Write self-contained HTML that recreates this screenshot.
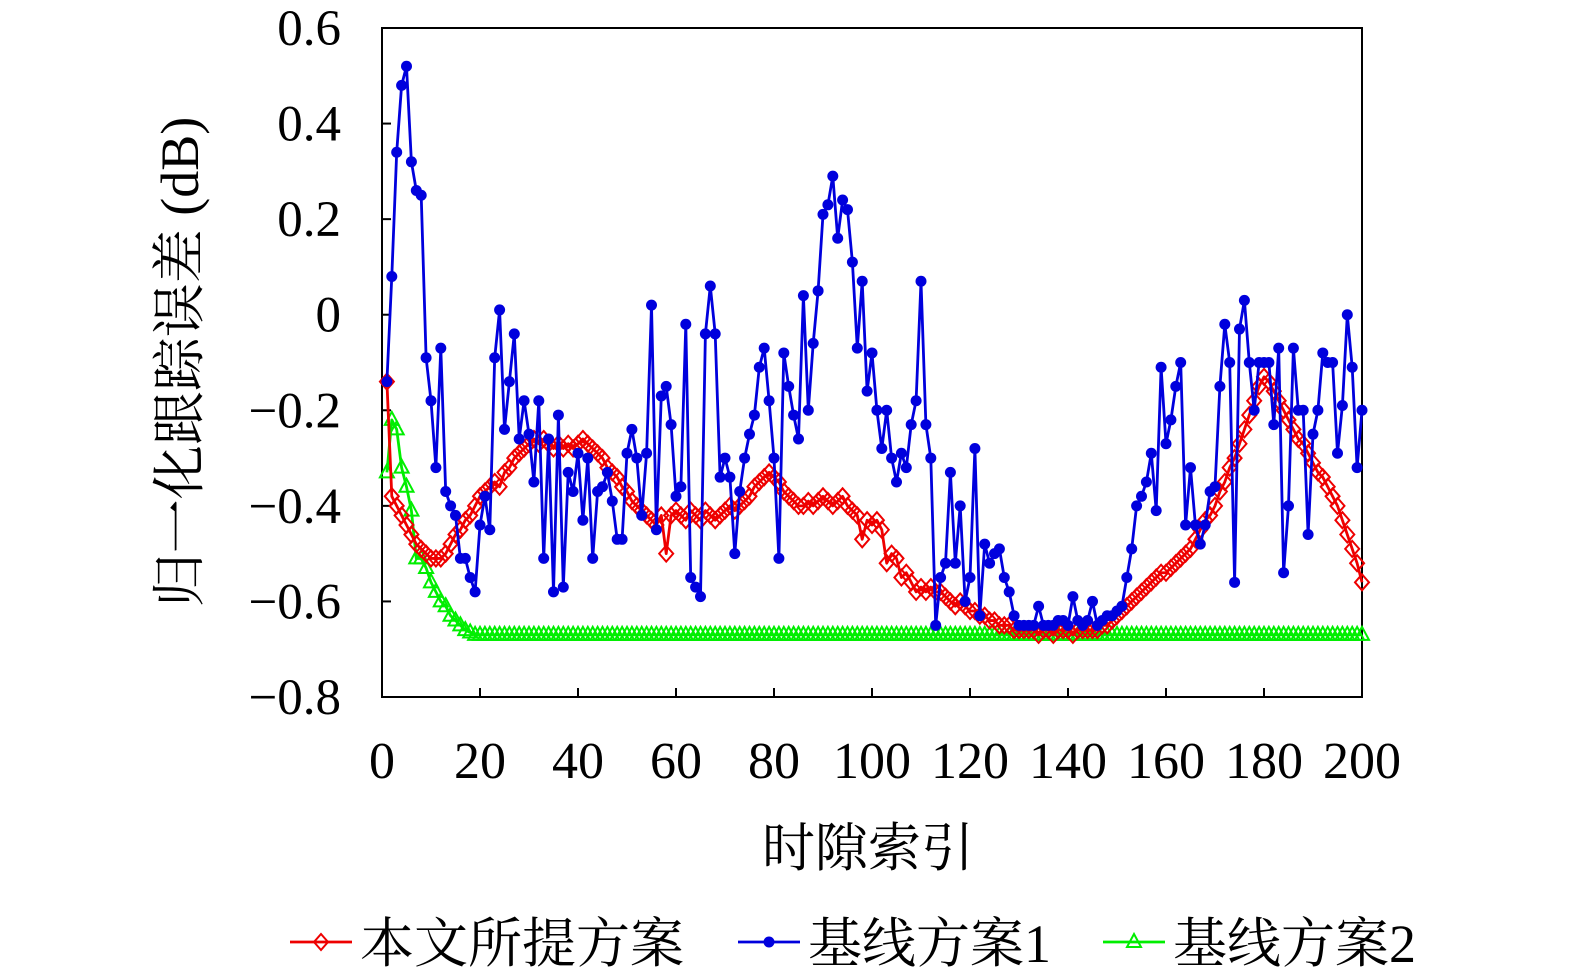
<!DOCTYPE html>
<html><head><meta charset="utf-8"><style>
html,body{margin:0;padding:0;background:#fff;overflow:hidden;}
svg{display:block;}
text{font-family:"Liberation Serif","Noto Serif CJK SC",serif;fill:#000;}
</style></head><body>
<svg id="chart" width="1575" height="973" xmlns="http://www.w3.org/2000/svg"></svg>
<script>
const xTicks=[0,20,40,60,80,100,120,140,160,180,200];
const yTicks=[-0.8,-0.6,-0.4,-0.2,0,0.2,0.4,0.6];
const yTickLabels=["−0.8","−0.6","−0.4","−0.2","0","0.2","0.4","0.6"];
const proposedValues=[-0.14,
-0.38,-0.40,-0.42,-0.44,-0.46,-0.48,-0.49,-0.50,-0.51,-0.51,-0.51,
-0.50,-0.48,-0.46,-0.45,-0.43,-0.42,-0.40,-0.38,-0.37,-0.36,-0.35,-0.36,-0.33,
-0.32,-0.30,-0.29,-0.28,-0.27,-0.26,-0.27,-0.26,-0.27,-0.28,-0.27,-0.28,-0.27,-0.28,-0.27,
-0.26,-0.27,-0.28,-0.29,-0.30,-0.32,-0.33,-0.34,-0.36,-0.37,-0.39,-0.40,-0.41,-0.42,-0.43,
-0.44,-0.42,-0.50,-0.42,-0.41,-0.42,-0.43,-0.41,-0.42,-0.43,-0.41,-0.42,-0.43,-0.42,-0.41,
-0.40,-0.41,-0.40,-0.39,-0.38,-0.36,-0.35,-0.34,-0.33,-0.34,-0.35,-0.37,-0.38,-0.39,-0.40,
-0.40,-0.39,-0.40,-0.39,-0.38,-0.39,-0.40,-0.39,-0.38,-0.40,-0.41,-0.42,-0.47,-0.43,-0.44,
-0.43,-0.45,-0.52,-0.50,-0.51,-0.55,-0.54,-0.56,-0.58,-0.57,-0.58,-0.57,-0.58,-0.58,-0.59,
-0.60,-0.61,-0.60,-0.61,-0.62,-0.62,-0.63,-0.63,-0.64,-0.64,-0.65,-0.65,-0.65,-0.66,-0.66,
-0.66,-0.66,-0.66,-0.67,-0.66,-0.66,-0.67,-0.66,-0.66,-0.66,-0.67,-0.66,-0.66,-0.66,-0.66,-0.66,-0.65,-0.65,-0.64,-0.63,
-0.62,-0.61,-0.60,-0.59,-0.58,-0.57,-0.56,-0.55,-0.54,-0.54,-0.53,-0.52,-0.51,-0.50,-0.49,
-0.47,-0.45,-0.43,-0.42,-0.40,-0.37,-0.35,-0.32,-0.30,-0.27,-0.24,-0.21,-0.18,-0.15,-0.13,
-0.14,-0.16,-0.18,-0.20,-0.22,-0.24,-0.26,-0.27,-0.29,-0.31,-0.33,-0.34,-0.36,-0.38,-0.40,-0.43,-0.46,-0.49,-0.52,-0.56];
const baseline1Values=[
-0.14,0.08,0.34,0.48,0.52,0.32,0.26,0.25,-0.09,-0.18,
-0.32,-0.07,-0.37,-0.40,-0.42,-0.51,-0.51,-0.55,-0.58,-0.44,
-0.38,-0.45,-0.09,0.01,-0.24,-0.14,-0.04,-0.26,-0.18,-0.25,
-0.35,-0.18,-0.51,-0.26,-0.58,-0.21,-0.57,-0.33,-0.37,-0.29,
-0.43,-0.30,-0.51,-0.37,-0.36,-0.33,-0.39,-0.47,-0.47,-0.29,
-0.24,-0.30,-0.42,-0.29,0.02,-0.45,-0.17,-0.15,-0.23,-0.38,
-0.36,-0.02,-0.55,-0.57,-0.59,-0.04,0.06,-0.04,-0.34,-0.30,
-0.34,-0.50,-0.37,-0.30,-0.25,-0.21,-0.11,-0.07,-0.18,-0.30,
-0.51,-0.08,-0.15,-0.21,-0.26,0.04,-0.20,-0.06,0.05,0.21,
0.23,0.29,0.16,0.24,0.22,0.11,-0.07,0.07,-0.16,-0.08,
-0.20,-0.28,-0.20,-0.30,-0.35,-0.29,-0.32,-0.23,-0.18,0.07,
-0.23,-0.30,-0.65,-0.55,-0.52,-0.33,-0.52,-0.40,-0.60,-0.55,
-0.28,-0.63,-0.48,-0.52,-0.50,-0.49,-0.55,-0.58,-0.63,-0.65,
-0.65,-0.65,-0.65,-0.61,-0.65,-0.65,-0.65,-0.64,-0.64,-0.65,-0.59,-0.64,-0.65,-0.64,-0.60,-0.65,-0.64,-0.63,-0.63,-0.62,-0.61,-0.55,
-0.49,-0.40,-0.38,-0.35,-0.29,-0.41,-0.11,-0.27,-0.22,-0.15,-0.10,-0.44,-0.32,-0.44,-0.48,-0.44,-0.37,-0.36,-0.15,-0.02,
-0.10,-0.56,-0.03,0.03,-0.10,-0.20,-0.10,-0.10,-0.10,-0.23,-0.07,-0.54,-0.40,-0.07,-0.20,-0.20,-0.46,-0.25,-0.20,-0.08,
-0.10,-0.10,-0.29,-0.19,0.00,-0.11,-0.32,-0.20];
const baseline2Values=[-0.33,-0.22,-0.24,-0.32,-0.36,-0.41,-0.51,-0.51,-0.53,-0.56,-0.58,-0.60,-0.61,-0.63,-0.64,-0.65,-0.66,-0.665,-0.67,-0.67,
-0.67,-0.67,-0.67,-0.67,-0.67,-0.67,-0.67,-0.67,-0.67,-0.67,-0.67,-0.67,-0.67,-0.67,-0.67,-0.67,-0.67,-0.67,-0.67,-0.67,
-0.67,-0.67,-0.67,-0.67,-0.67,-0.67,-0.67,-0.67,-0.67,-0.67,-0.67,-0.67,-0.67,-0.67,-0.67,-0.67,-0.67,-0.67,-0.67,-0.67,
-0.67,-0.67,-0.67,-0.67,-0.67,-0.67,-0.67,-0.67,-0.67,-0.67,-0.67,-0.67,-0.67,-0.67,-0.67,-0.67,-0.67,-0.67,-0.67,-0.67,
-0.67,-0.67,-0.67,-0.67,-0.67,-0.67,-0.67,-0.67,-0.67,-0.67,-0.67,-0.67,-0.67,-0.67,-0.67,-0.67,-0.67,-0.67,-0.67,-0.67,
-0.67,-0.67,-0.67,-0.67,-0.67,-0.67,-0.67,-0.67,-0.67,-0.67,-0.67,-0.67,-0.67,-0.67,-0.67,-0.67,-0.67,-0.67,-0.67,-0.67,
-0.67,-0.67,-0.67,-0.67,-0.67,-0.67,-0.67,-0.67,-0.67,-0.67,-0.67,-0.67,-0.67,-0.67,-0.67,-0.67,-0.67,-0.67,-0.67,-0.67,
-0.67,-0.67,-0.67,-0.67,-0.67,-0.67,-0.67,-0.67,-0.67,-0.67,-0.67,-0.67,-0.67,-0.67,-0.67,-0.67,-0.67,-0.67,-0.67,-0.67,
-0.67,-0.67,-0.67,-0.67,-0.67,-0.67,-0.67,-0.67,-0.67,-0.67,-0.67,-0.67,-0.67,-0.67,-0.67,-0.67,-0.67,-0.67,-0.67,-0.67,
-0.67,-0.67,-0.67,-0.67,-0.67,-0.67,-0.67,-0.67,-0.67,-0.67,-0.67,-0.67,-0.67,-0.67,-0.67,-0.67,-0.67,-0.67,-0.67,-0.67];

const NS="http://www.w3.org/2000/svg";
const svg=document.getElementById('chart');
const L=382,R=1362,T=28,B=697;
const X=v=>L+(v-0)/(200-0)*(R-L);
const Y=v=>B-(v+0.8)/(1.4)*(B-T);
function mk(tag,attrs,parent){const e=document.createElementNS(NS,tag);for(const k in attrs)e.setAttribute(k,attrs[k]);(parent||svg).appendChild(e);return e;}

const frame=mk('rect',{x:L,y:T,width:R-L,height:B-T,fill:'none',stroke:'#000','stroke-width':2});



xTicks.forEach(t=>{
  const ln=mk('line',{x1:X(t),x2:X(t),y1:B,y2:B-9,stroke:'#000','stroke-width':2});
  
  
  const tx=mk('text',{x:X(t),y:778,'text-anchor':'middle','font-size':52});
  
  
  tx.textContent=t;
});
yTicks.forEach((t,i)=>{
  const ln=mk('line',{x1:L,x2:L+9,y1:Y(t),y2:Y(t),stroke:'#000','stroke-width':2});
  
  
  const tx=mk('text',{x:341,y:Y(t)+17,'text-anchor':'end','font-size':51});
  
  
  tx.textContent=yTickLabels[i];
});

const xt=mk('text',{x:868,y:866,'text-anchor':'middle','font-size':53});


xt.textContent='时隙索引';
const yt=mk('text',{x:0,y:0,'text-anchor':'middle','font-size':54,transform:'translate(198,362) rotate(-90)'});


yt.textContent='归一化跟踪误差 (dB)';

function diamond(g,x,y,c){const p=mk('path',{d:`M${x} ${y-8}L${x+7} ${y}L${x} ${y+8}L${x-7} ${y}Z`,fill:'none',stroke:c,'stroke-width':2},g);}
function dot(g,x,y,c){const p=mk('circle',{cx:x,cy:y,r:5.5,fill:c},g);}
function tri(g,x,y,c){const p=mk('path',{d:`M${x} ${y-8}L${x+7} ${y+5}L${x-7} ${y+5}Z`,fill:'none',stroke:c,'stroke-width':2},g);}

function series(vals,color,marker,name){
  const g=mk('g',{});
  
  
  const pts=vals.map((v,i)=>X(i+1)+','+Y(v)).join(' ');
  const pl=mk('polyline',{points:pts,fill:'none',stroke:color,'stroke-width':2.8,'stroke-linejoin':'round'},g);
  
  
  vals.forEach((v,i)=>marker(g,X(i+1),Y(v),color));
}
series(baseline2Values,'#00ee00',tri,'baseline2-series');
series(proposedValues,'#ee0000',diamond,'proposed-series');
series(baseline1Values,'#0000dd',dot,'baseline1-series');

const leg=mk('g',{});


const items=[['本文所提方案','#ee0000',diamond,290],['基线方案1','#0000dd',dot,738],['基线方案2','#00ee00',tri,1103]];
items.forEach(([lab,c,m,x0])=>{
  const g=mk('g',{},leg);
  
  
  mk('line',{x1:x0,x2:x0+62,y1:942,y2:942,stroke:c,'stroke-width':2.8},g);
  m(g,x0+31,942,c);
  const t=mk('text',{x:x0+70,y:962,'font-size':54},g);
  
  
  t.textContent=lab;
});
</script>
</body></html>
